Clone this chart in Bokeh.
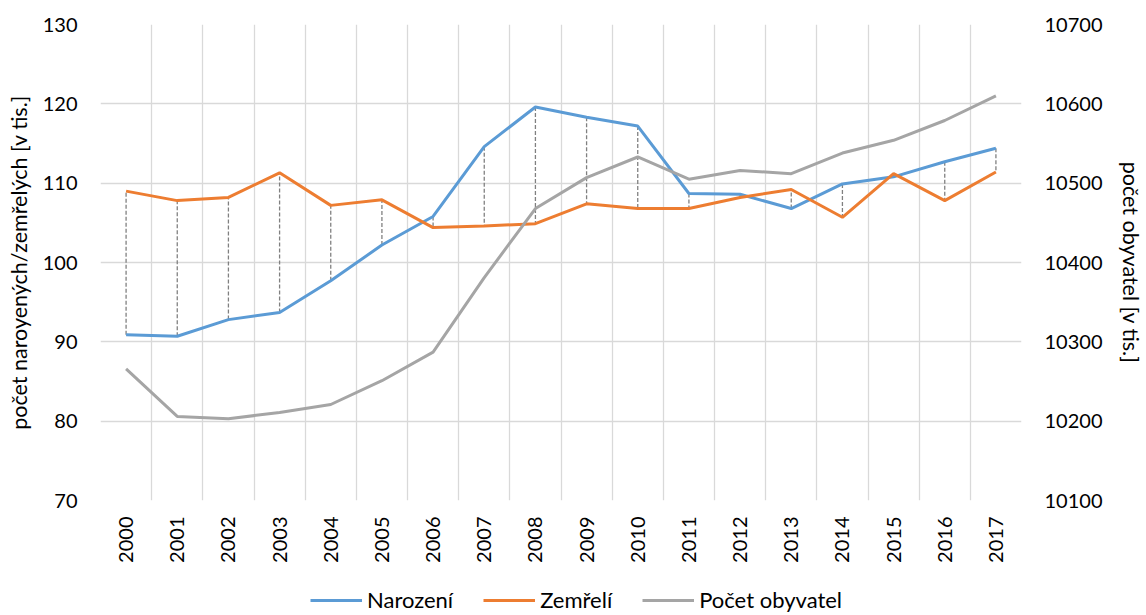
from bokeh.plotting import figure
from bokeh.layouts import column
from bokeh.models import Range1d, LinearAxis, FixedTicker, Legend, LegendItem
from bokeh.embed import file_html
from bokeh.resources import INLINE
import math

years = list(range(2000, 2018))
narozeni = [90.9, 90.7, 92.8, 93.7, 97.7, 102.2, 105.8, 114.6, 119.6, 118.3,
            117.2, 108.7, 108.6, 106.8, 109.9, 110.8, 112.7, 114.4]
zemreli = [109.0, 107.8, 108.2, 111.3, 107.2, 107.9, 104.4, 104.6, 104.9, 107.4,
           106.8, 106.8, 108.2, 109.2, 105.7, 111.2, 107.8, 111.4]
obyvatel = [10266, 10206, 10203, 10211, 10221, 10251, 10287, 10381, 10468, 10507,
            10533, 10505, 10516, 10512, 10538, 10554, 10579, 10610]
left_ticks = [70, 80, 90, 100, 110, 120, 130]
right_ticks = [10100, 10200, 10300, 10400, 10500, 10600, 10700]
series_names = ["Narození", "Zemřelí", "Počet obyvatel"]
series_colors = ["#5B9BD5", "#ED7D31", "#A5A5A5"]

FONT = "Lato"
FS = "20px"
FS_T = "21.5px"
GRID = "#D9D9D9"

p = figure(width=1146, height=570, output_backend="svg", toolbar_location=None,
           x_range=Range1d(years[0] - 0.5, years[-1] + 0.5),
           y_range=Range1d(left_ticks[0], left_ticks[-1]),
           min_border_left=100, min_border_right=119, min_border_top=24,
           min_border_bottom=70)
p.outline_line_color = None
p.extra_y_ranges = {"pop": Range1d(right_ticks[0], right_ticks[-1])}

# grids
p.xgrid.ticker = FixedTicker(ticks=[y - 0.5 for y in years] + [years[-1] + 0.5])
p.ygrid.ticker = FixedTicker(ticks=left_ticks)
for g in (p.xgrid[0], p.ygrid[0]):
    g.grid_line_color = GRID
    g.grid_line_width = 1.3

# x axis
xa = p.xaxis[0]
xa.ticker = FixedTicker(ticks=years)
xa.major_label_overrides = {y: str(y) for y in years}
xa.major_label_orientation = math.pi / 2
xa.major_label_standoff = 16

# left axis
ya = p.yaxis[0]
ya.ticker = FixedTicker(ticks=left_ticks)
ya.axis_label = "počet naroyených/zemřelých [v tis.]"
ya.major_label_standoff = 23
ya.axis_label_standoff = 8

ra = LinearAxis(y_range_name="pop", ticker=FixedTicker(ticks=right_ticks),
                axis_label="počet obyvatel [v tis.]")
ra.major_label_standoff = 23
ra.axis_label_standoff = 12
p.add_layout(ra, "right")

for ax in (xa, ya, ra):
    ax.axis_line_color = None
    ax.major_tick_line_color = None
    ax.minor_tick_line_color = None
    ax.major_tick_out = 0
    ax.major_tick_in = 0
    ax.major_label_text_font = FONT
    ax.major_label_text_font_size = FS
    ax.major_label_text_color = "#000000"
    ax.axis_label_text_font = FONT
    ax.axis_label_text_font_size = FS_T
    ax.axis_label_text_font_style = "normal"
    ax.axis_label_text_color = "#000000"

# high-low lines
p.segment(x0=years, y0=narozeni, x1=years, y1=zemreli, line_color="#808080",
          line_width=1.3, line_dash="4 2")

p.line(years, narozeni, line_color=series_colors[0], line_width=3)
p.line(years, zemreli, line_color=series_colors[1], line_width=3)
p.line(years, obyvatel, line_color=series_colors[2], line_width=3, y_range_name="pop")

# legend strip below the chart (series drawn out of its view, only legend glyphs show)
lg = figure(width=1146, height=45, output_backend="svg", toolbar_location=None,
            x_range=Range1d(years[0] - 0.5, years[-1] + 0.5), y_range=Range1d(0, 1),
            x_axis_type=None, y_axis_type=None, min_border=0)
lg.outline_line_color = None
lg.xgrid.visible = False
lg.ygrid.visible = False
items = []
for name, col, vals in zip(series_names, series_colors, [narozeni, zemreli, obyvatel]):
    r = lg.line(x=years, y=vals, line_color=col, line_width=3)
    items.append(LegendItem(label=name, renderers=[r]))

legend = Legend(items=items, orientation="horizontal", location=(210, 2),
                label_text_font=FONT, label_text_font_size="22px",
                label_text_color="#000000", label_height=22, glyph_height=22,
                glyph_width=52, label_standoff=5, spacing=30,
                border_line_color=None, background_fill_alpha=0,
                padding=0, margin=0)
lg.add_layout(legend, "center")

open("out.html", "w").write(file_html(column(p, lg), INLINE))
